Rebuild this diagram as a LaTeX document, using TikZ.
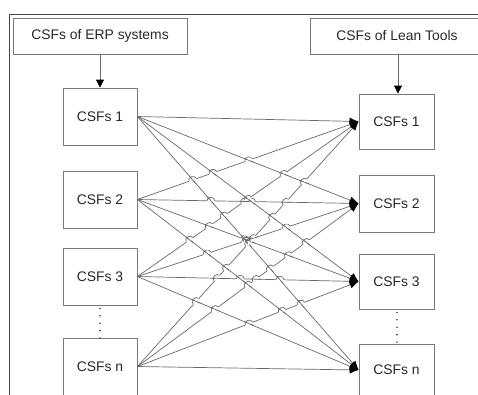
\documentclass[tikz,border=0pt]{standalone}
\usepackage{fontspec}
\setmainfont{Liberation Sans}
\usetikzlibrary{arrows.meta}
\definecolor{linecol}{RGB}{105,105,105}
\definecolor{boxcol}{RGB}{120,120,120}
\definecolor{framecol}{RGB}{70,70,70}
\definecolor{textcol}{RGB}{40,40,40}
\tikzset{
  csfbox/.style={draw=boxcol, line width=0.8pt, inner sep=0pt, minimum width=74pt, minimum height=57pt, text=textcol, font=\fontsize{13.9}{16}\selectfont},
  headbox/.style={draw=boxcol, line width=0.8pt, inner sep=0pt, minimum width=174pt, minimum height=36pt, text=textcol, font=\fontsize{13.9}{16}\selectfont},
  conn/.style={draw=linecol, line width=0.7pt, -{Latex[length=9pt,width=7.5pt,black,fill=black]}},
  downarrow/.style={draw=linecol, line width=0.8pt, -{Triangle[length=8pt,width=8pt,black,fill=black]}},
  dotline/.style={draw=framecol, line width=1.8pt, dash pattern=on 0pt off 7.4pt, line cap=round},
  hopline/.style={draw=linecol, line width=0.7pt},
  eraseline/.style={draw=white, line width=2.4pt}
}
\begin{document}
\begin{tikzpicture}[x=1pt,y=-1pt]
\useasboundingbox (0,0) rectangle (478,394);
\clip (0,0) rectangle (478,394);
% frame
\draw[framecol, line width=0.8pt] (478,14) -- (9,14) -- (9,395);
% header boxes
\node[headbox] (erp) at (100,36) {CSFs of ERP systems};
\node[headbox] (lean) at (397,36) {CSFs of Lean Tools};
% left boxes
\node[csfbox] (L1) at (100,116.5) {CSFs 1};
\node[csfbox] (L2) at (100,199.5) {CSFs 2};
\node[csfbox] (L3) at (100,276.5) {CSFs 3};
\node[csfbox] (L4) at (100,366.5) {CSFs n};
% right boxes
\node[csfbox, minimum width=75pt, minimum height=55pt] (R1) at (396.5,121.5) {CSFs 1};
\node[csfbox, minimum width=75pt] (R2) at (396.5,203.5) {CSFs 2};
\node[csfbox, minimum width=75pt, minimum height=55pt] (R3) at (396.5,281.5) {CSFs 3};
\node[csfbox, minimum width=75pt, minimum height=52pt] (R4) at (396.5,370) {CSFs n};
% arrows from headers
\draw[downarrow] (erp.south) -- (L1.north);
\coordinate (leanbot) at (398,54);
\draw[downarrow] (leanbot) -- (leanbot |- R1.north);
% dotted lines
\draw[dotline] ([yshift=-3pt]L3.south) -- ([yshift=-0.5pt]L4.north);
\draw[dotline] ([xshift=0.5pt,yshift=-3pt]R3.south) -- ([xshift=0.5pt,yshift=-0.5pt]R4.north);
% connectors
\foreach \a in {1,2,3,4}{
  \foreach \b in {1,2,3,4}{
    \draw[conn] (L\a.east) -- (R\b.west);
  }
}
% line hops
\foreach \i in {0,...,3}{
 \foreach \j in {0,...,3}{
  \foreach \k in {0,...,3}{
   \foreach \l in {0,...,3}{
    \ifnum\i>\k\relax
    \ifnum\j<\l\relax
      \pgfmathsetmacro\yi{{116.5,199.5,276.5,366.5}[\i]}
      \pgfmathsetmacro\yk{{116.5,199.5,276.5,366.5}[\k]}
      \pgfmathsetmacro\rj{{121.5,203.5,281.5,370}[\j]}
      \pgfmathsetmacro\rl{{121.5,203.5,281.5,370}[\l]}
      \pgfmathsetmacro\dz{\yi-\yk}
      \pgfmathsetmacro\dw{\rj-\rl}
      \pgfmathsetmacro\t{\dz/(\dz-\dw)}
      \pgfmathsetmacro\dyh{\rj-\yi}
      \pgfmathsetmacro\lh{222*sqrt(1+(\dyh/222)^2)}
      \pgfmathsetmacro\ux{222/\lh}
      \pgfmathsetmacro\uy{\dyh/\lh}
      \pgfmathsetmacro\dyc{\rl-\yk}
      \pgfmathsetmacro\lc{222*sqrt(1+(\dyc/222)^2)}
      \pgfmathsetmacro\vx{222/\lc}
      \pgfmathsetmacro\vy{\dyc/\lc}
      \pgfmathsetmacro\px{137+\t*222}
      \pgfmathsetmacro\py{\yi+\t*\dyh}
      \def\r{4}
      \def\h{4.6}
      \draw[eraseline] (\px-\r*\ux,\py-\r*\uy) -- (\px+\r*\ux,\py+\r*\uy);
      \draw[hopline] (\px-5*\vx,\py-5*\vy) -- (\px+5*\vx,\py+5*\vy);
      \draw[hopline] (\px-\r*\ux,\py-\r*\uy) .. controls (\px-\r*\ux+\h*\uy,\py-\r*\uy-\h*\ux) and (\px+\r*\ux+\h*\uy,\py+\r*\uy-\h*\ux) .. (\px+\r*\ux,\py+\r*\uy);
    \fi
    \fi
   }
  }
 }
}
\end{tikzpicture}
\end{document}
